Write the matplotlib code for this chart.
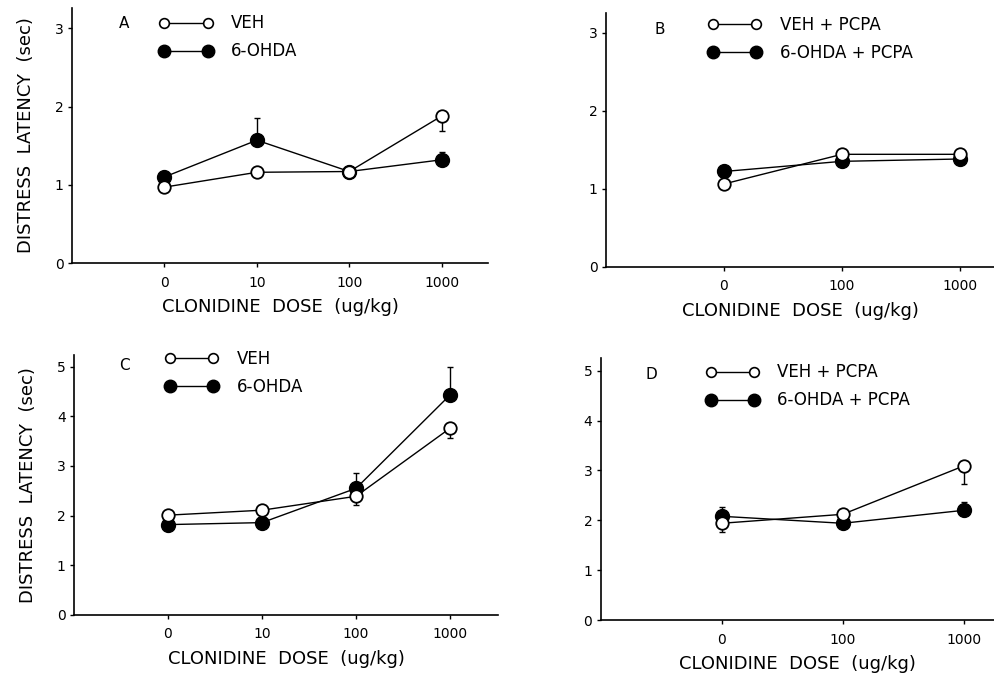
import matplotlib
matplotlib.use("Agg")
import matplotlib.pyplot as plt
from matplotlib.lines import Line2D
import numpy as np

# panel A / C doses, panel B / D doses
doses4 = ["0", "10", "100", "1000"]
doses3 = ["0", "100", "1000"]

# panel A
a_veh = [0.97, 1.16, 1.17, 1.88]
a_veh_lo = [0, 0, 0, 0.19]
a_ohda = [1.10, 1.57, 1.17, 1.32]
a_ohda_hi = [0, 0.28, 0, 0.10]

# panel B
b_veh = [1.06, 1.44, 1.44]
b_veh_lo = [0, 0, 0]
b_ohda = [1.22, 1.35, 1.38]
b_ohda_hi = [0, 0, 0]

# panel C
c_veh = [2.01, 2.11, 2.39, 3.76]
c_veh_lo = [0, 0, 0.18, 0.20]
c_ohda = [1.82, 1.86, 2.55, 4.43]
c_ohda_hi = [0, 0, 0.30, 0.57]

# panel D
d_veh = [1.94, 2.12, 3.09]
d_veh_lo = [0.17, 0, 0.36]
d_ohda = [2.08, 1.94, 2.20]
d_ohda_hi = [0.19, 0, 0.17]

plt.rcParams['font.family'] = ['DejaVu Sans']


def drawPanel(ax, doses, veh, veh_lo, ohda, ohda_hi, letter, labels, ymax, xmax,
              leg_xy, letter_xy, ylabel=True):
	x = np.arange(len(doses))
	veh_lo = np.array(veh_lo)
	ohda_hi = np.array(ohda_hi)
	m = veh_lo > 0
	if m.any():
		ax.errorbar(x[m], np.array(veh)[m], yerr=[veh_lo[m], np.zeros(m.sum())], fmt='none',
			ecolor='black', elinewidth=1, capsize=2, capthick=1, zorder=2)
	m = ohda_hi > 0
	if m.any():
		ax.errorbar(x[m], np.array(ohda)[m], yerr=[np.zeros(m.sum()), ohda_hi[m]], fmt='none',
			ecolor='black', elinewidth=1, capsize=2, capthick=1, zorder=2)
	ax.plot(x, veh, '-o', color='black', lw=1, ms=9, mfc='white', mec='black', mew=1.3, zorder=4)
	ax.plot(x, ohda, '-o', color='black', lw=1, ms=10, mfc='black', mec='black', zorder=3)

	ax.set_xlim(-1.0, xmax)
	ax.set_ylim(0, ymax)
	ax.set_xticks(x)
	ax.set_xticklabels(doses)
	ax.set_yticks(np.arange(0, int(ymax) + 1))
	for s in ['top', 'right']:
		ax.spines[s].set_visible(False)
	for s in ['left', 'bottom']:
		ax.spines[s].set_linewidth(1.2)
	ax.tick_params(axis='both', direction='out', length=3, width=1, labelsize=10)
	ax.tick_params(axis='x', pad=6)
	ax.tick_params(axis='y', pad=3)
	ax.set_xlabel("CLONIDINE  DOSE  (ug/kg)", fontsize=13, labelpad=6)
	if ylabel:
		ax.set_ylabel("DISTRESS  LATENCY  (sec)", fontsize=13, labelpad=14)
	ax.text(letter_xy[0], letter_xy[1], letter, transform=ax.transAxes, fontsize=11,
		ha='center', va='center')

	h1 = Line2D([], [], color='black', lw=1, marker='o', ms=7, mfc='white', mec='black', mew=1.2)
	h2 = Line2D([], [], color='black', lw=1, marker='o', ms=9, mfc='black', mec='black')
	ax.legend([h1, h2], labels, numpoints=2, frameon=False, loc='upper left',
		bbox_to_anchor=leg_xy, borderpad=0, borderaxespad=0, handlelength=3.2,
		handletextpad=1.1, labelspacing=0.6, fontsize=12)


fig = plt.figure(figsize=(9.94, 6.8), dpi=100)
axA = fig.add_axes([0.0724, 0.6132, 0.4185, 0.375])
axB = fig.add_axes([0.6097, 0.6078, 0.3903, 0.373])
axC = fig.add_axes([0.0744, 0.0956, 0.4266, 0.382])
axD = fig.add_axes([0.6043, 0.0882, 0.3957, 0.385])

drawPanel(axA, doses4, a_veh, a_veh_lo, a_ohda, a_ohda_hi, "A", ["VEH", "6-OHDA"],
	3.26, 3.5, (0.21, 0.975), (0.125, 0.94))
drawPanel(axB, doses3, b_veh, b_veh_lo, b_ohda, b_ohda_hi, "B", ["VEH + PCPA", "6-OHDA + PCPA"],
	3.25, 2.29, (0.263, 0.99), (0.139, 0.937), ylabel=False)
drawPanel(axC, doses4, c_veh, c_veh_lo, c_ohda, c_ohda_hi, "C", ["VEH", "6-OHDA"],
	5.23, 3.51, (0.215, 1.02), (0.12, 0.96))
drawPanel(axD, doses3, d_veh, d_veh_lo, d_ohda, d_ohda_hi, "D", ["VEH + PCPA", "6-OHDA + PCPA"],
	5.25, 2.25, (0.267, 0.98), (0.13, 0.936), ylabel=False)

fig.savefig("out.png", dpi=100)
